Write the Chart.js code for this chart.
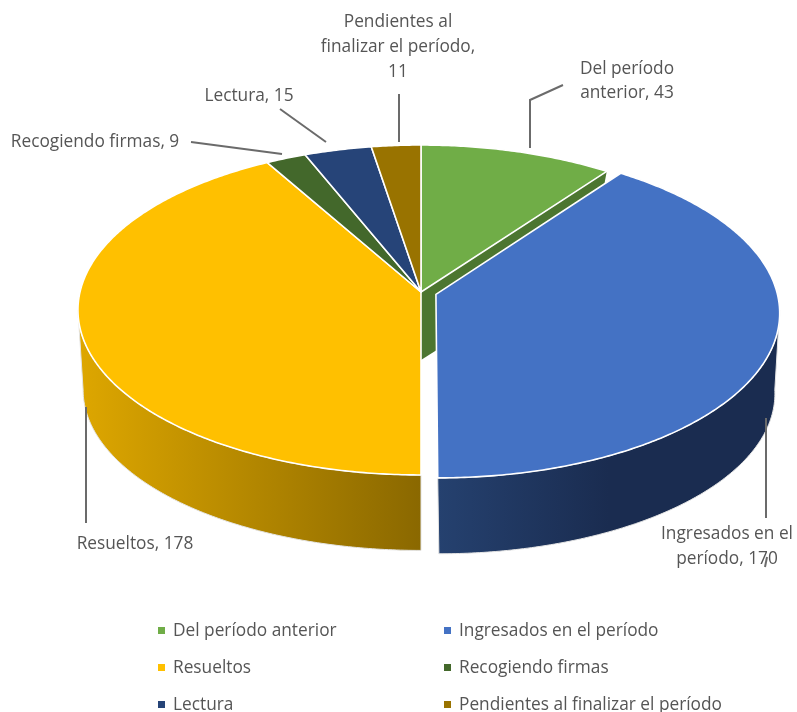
<!DOCTYPE html>
<html lang="es">
<head>
    <meta charset="UTF-8">
    <title>Pie 3D</title>
    <script src="https://cdn.jsdelivr.net/npm/chart.js"></script>
    <style>
        html, body { margin: 0; padding: 0; background: #fff; }
        canvas { display: block; }
    </style>
</head>
<body>
    <canvas id="pieChart" width="797" height="712"></canvas>

    <script>
        const categories = ["Del período anterior", "Ingresados en el período", "Resueltos", "Recogiendo firmas", "Lectura", "Pendientes al finalizar el período"];
        const values = [43, 170, 178, 9, 15, 11];
        const sliceColors = ["#70AD47", "#4472C4", "#FFC000", "#43682B", "#264478", "#997300"];
        const sliceOffsets = [0, 16, 0, 0, 0, 0];

        // Callout text, one entry per line
        const calloutLines = [
            ["Del período", "anterior, 43"],
            ["Ingresados en el", "período, 170"],
            ["Resueltos, 178"],
            ["Recogiendo firmas, 9"],
            ["Lectura, 15"],
            ["Pendientes al", "finalizar el período,", "11"]
        ];

        const FONT = '17.3px "Open Sans", sans-serif';
        const TEXT_COLOR = "#555555";

        // Where each callout sits: centre x, first line middle y, line gap
        const calloutPos = [
            { x: 627, y: 69, gap: 24 },
            { x: 727, y: 534, gap: 25 },
            { x: 135, y: 544, gap: 0 },
            { x: 95, y: 142, gap: 0 },
            { x: 249, y: 96, gap: 0 },
            { x: 398, y: 22, gap: 25 }
        ];
        const leaderLines = [
            [[530, 148], [530, 100], [563, 85]],
            [[766, 418], [766, 518]],
            [[86, 407], [86, 523]],
            [[191, 142], [282, 154]],
            [[280, 109], [326, 142]],
            [[399, 94], [399, 142]],
            [[767, 557], [765, 567]]
        ];
        const legendCols = [158, 444];
        const legendRows = [631, 668, 705];

        // Perspective of the disc, top face and bottom face
        const topFace = { cx: 421, cy: 292, a: 341, b: 163, k: 0.109 };
        const botFace = { cx: 421, cy: 360, a: 332, b: 155, k: 0.186 };

        // Side gradient per slice, only the front slices show a side
        const sideShades = {
            1: [[0, "#25416F"], [0.5, "#1A2C50"], [1, "#1A2C50"]],
            2: [[0, "#DEA700"], [1, "#8A6800"]]
        };
        const WALL_SHADE = 0.68;

        function project(face, theta, r, du, dv) {
            const u = Math.sin(theta) * r + du;
            const v = -Math.cos(theta) * r + dv;
            const w = 1 - face.k * v;
            return [face.cx + face.a * u / w, face.cy + face.b * v / w];
        }

        function shade(hex, f) {
            const n = parseInt(hex.slice(1), 16);
            const c = [n >> 16, (n >> 8) & 255, n & 255].map(x => Math.round(x * f));
            return `rgb(${c[0]},${c[1]},${c[2]})`;
        }

        function sliceGeometry(arc) {
            const p = arc.getProps(["startAngle", "endAngle", "outerRadius"], true);
            const start = p.startAngle + Math.PI / 2;
            const end = p.endAngle + Math.PI / 2;
            const mid = (start + end) / 2;
            const d = (arc.options.offset || 0) / p.outerRadius;
            return { start, end, du: Math.sin(mid) * d, dv: -Math.cos(mid) * d };
        }

        function arcPoints(face, from, to, g) {
            const pts = [];
            const n = Math.max(2, Math.ceil((to - from) / 0.01));
            for (let i = 0; i <= n; i++) {
                pts.push(project(face, from + (to - from) * i / n, 1, g.du, g.dv));
            }
            return pts;
        }

        // part of the rim that faces the viewer on this face, stops at the silhouette
        function frontArc(face, g) {
            const edge = Math.acos(Math.min(1, Math.max(-1, g.dv - face.k)));
            return arcPoints(face, Math.max(g.start, edge), Math.min(g.end, 2 * Math.PI - edge), g);
        }

        function tracePoly(ctx, pts) {
            ctx.beginPath();
            pts.forEach((p, i) => i ? ctx.lineTo(p[0], p[1]) : ctx.moveTo(p[0], p[1]));
            ctx.closePath();
        }

        const pie3d = {
            id: "pie3d",
            // the library works out the angles, this only projects them
            beforeDatasetDraw(chart, args) {
                const ctx = chart.ctx;
                const arcs = chart.getDatasetMeta(args.index).data;
                const geo = arcs.map(sliceGeometry);
                const colors = chart.data.datasets[args.index].backgroundColor;
                ctx.save();
                ctx.lineJoin = "round";

                // inner wall shown where the next slice is pulled out
                geo.forEach((g, i) => {
                    const next = arcs[(i + 1) % arcs.length];
                    if (!next.options.offset || arcs[i].options.offset) return;
                    tracePoly(ctx, [
                        project(topFace, 0, 0, g.du, g.dv),
                        project(topFace, g.end, 1, g.du, g.dv),
                        project(botFace, g.end, 1, g.du, g.dv),
                        project(botFace, 0, 0, g.du, g.dv)
                    ]);
                    ctx.fillStyle = shade(colors[i], WALL_SHADE);
                    ctx.fill();
                });

                // outer sides of the front slices
                geo.forEach((g, i) => {
                    if (!sideShades[i]) return;
                    const pts = frontArc(topFace, g).concat(frontArc(botFace, g).reverse());
                    const xs = pts.map(p => p[0]);
                    const grad = ctx.createLinearGradient(Math.min(...xs), 0, Math.max(...xs), 0);
                    sideShades[i].forEach(s => grad.addColorStop(s[0], s[1]));
                    tracePoly(ctx, pts);
                    ctx.fillStyle = grad;
                    ctx.fill();
                    ctx.strokeStyle = "#e4e4e4";
                    ctx.lineWidth = 1;
                    ctx.stroke();
                });

                // top faces
                geo.forEach((g, i) => {
                    const pts = [project(topFace, 0, 0, g.du, g.dv)].concat(arcPoints(topFace, g.start, g.end, g));
                    tracePoly(ctx, pts);
                    ctx.fillStyle = colors[i];
                    ctx.fill();
                    ctx.strokeStyle = "#ffffff";
                    ctx.lineWidth = 1.6;
                    ctx.stroke();
                });
                ctx.restore();
                return false;
            },
            afterDraw(chart) {
                const ctx = chart.ctx;
                const colors = chart.data.datasets[0].backgroundColor;
                ctx.save();

                // leader lines
                ctx.strokeStyle = "#6b6b6b";
                ctx.lineWidth = 2;
                leaderLines.forEach(line => {
                    ctx.beginPath();
                    line.forEach((p, i) => i ? ctx.lineTo(p[0], p[1]) : ctx.moveTo(p[0], p[1]));
                    ctx.stroke();
                });

                // callouts
                ctx.font = FONT;
                ctx.fillStyle = TEXT_COLOR;
                ctx.textAlign = "center";
                ctx.textBaseline = "middle";
                calloutLines.forEach((lines, i) => {
                    const pos = calloutPos[i];
                    lines.forEach((t, j) => ctx.fillText(t, pos.x, pos.y + j * pos.gap));
                });

                // legend, two columns
                ctx.textAlign = "left";
                chart.data.labels.forEach((label, i) => {
                    const x = legendCols[i % 2];
                    const y = legendRows[Math.floor(i / 2)];
                    ctx.fillStyle = colors[i];
                    ctx.fillRect(x, y - 4, 7, 7);
                    ctx.fillStyle = TEXT_COLOR;
                    ctx.fillText(label, x + 15, y);
                });
                ctx.restore();
            }
        };

        new Chart(document.getElementById("pieChart"), {
            type: "pie",
            data: {
                labels: categories,
                datasets: [{
                    data: values,
                    backgroundColor: sliceColors,
                    offset: sliceOffsets,
                    borderWidth: 0
                }]
            },
            options: {
                responsive: false,
                animation: false,
                plugins: {
                    legend: { display: false },
                    tooltip: { enabled: false }
                }
            },
            plugins: [pie3d]
        });
    </script>
</body>
</html>
